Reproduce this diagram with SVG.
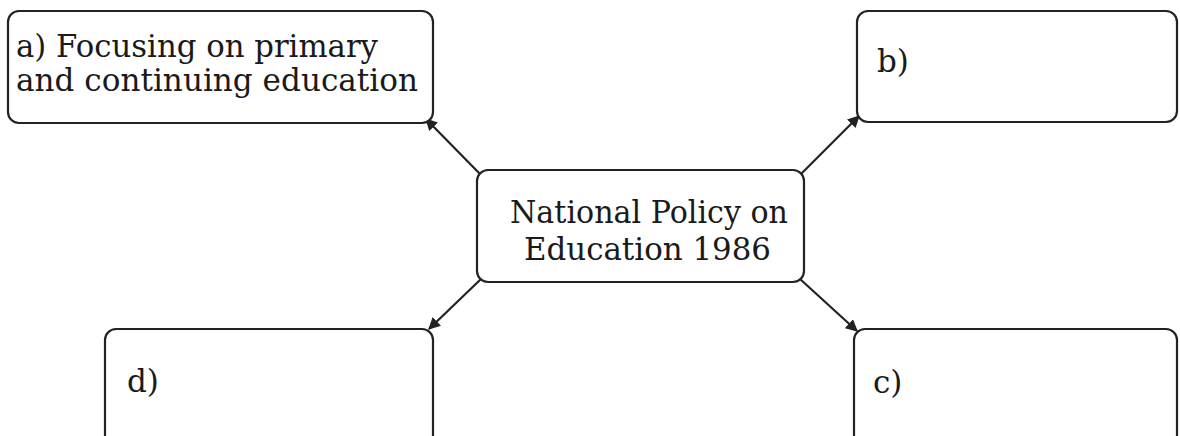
<svg xmlns="http://www.w3.org/2000/svg" width="1180" height="436" viewBox="0 0 1180 436">
<style>
.box{fill:#fff;stroke:#222;stroke-width:2.2}
.t{font-family:"DejaVu Serif","Liberation Serif",serif;font-size:31px;fill:#1a1a1a}
.c{stroke:#222;stroke-width:2.2;fill:none;marker-end:url(#ah)}
</style>
<defs>
<marker id="ah" viewBox="0 0 10 10" refX="9" refY="5" markerWidth="5.5" markerHeight="5.5" orient="auto" markerUnits="strokeWidth">
<path d="M0,0 L10,5 L0,10 Z" fill="#222"/>
</marker>
</defs>
<rect width="1180" height="436" fill="#fff"/>
<g id="connectors">
<line class="c" x1="480" y1="174" x2="426" y2="119"/>
<line class="c" x1="801" y1="174" x2="859" y2="116"/>
<line class="c" x1="481" y1="279" x2="429" y2="329"/>
<line class="c" x1="800" y1="279" x2="857" y2="331"/>
</g>
<g id="node-a">
<rect class="box" x="8" y="11" width="425" height="112" rx="11"/>
<text class="t" x="16" y="57" textLength="362" lengthAdjust="spacingAndGlyphs">a) Focusing on primary</text>
<text class="t" x="16" y="91" textLength="402" lengthAdjust="spacingAndGlyphs">and continuing education</text>
</g>
<g id="node-b">
<rect class="box" x="857" y="11" width="320" height="111" rx="11"/>
<text class="t" x="877" y="72">b)</text>
</g>
<g id="node-center">
<rect class="box" x="477" y="170" width="327" height="112" rx="11"/>
<text class="t" x="510" y="223" textLength="278" lengthAdjust="spacingAndGlyphs">National Policy on</text>
<text class="t" x="524" y="260" textLength="247" lengthAdjust="spacingAndGlyphs">Education 1986</text>
</g>
<g id="node-d">
<rect class="box" x="105" y="329" width="328" height="120" rx="11"/>
<text class="t" x="127" y="392">d)</text>
</g>
<g id="node-c">
<rect class="box" x="854" y="329" width="323" height="120" rx="11"/>
<text class="t" x="873" y="393">c)</text>
</g>
</svg>
